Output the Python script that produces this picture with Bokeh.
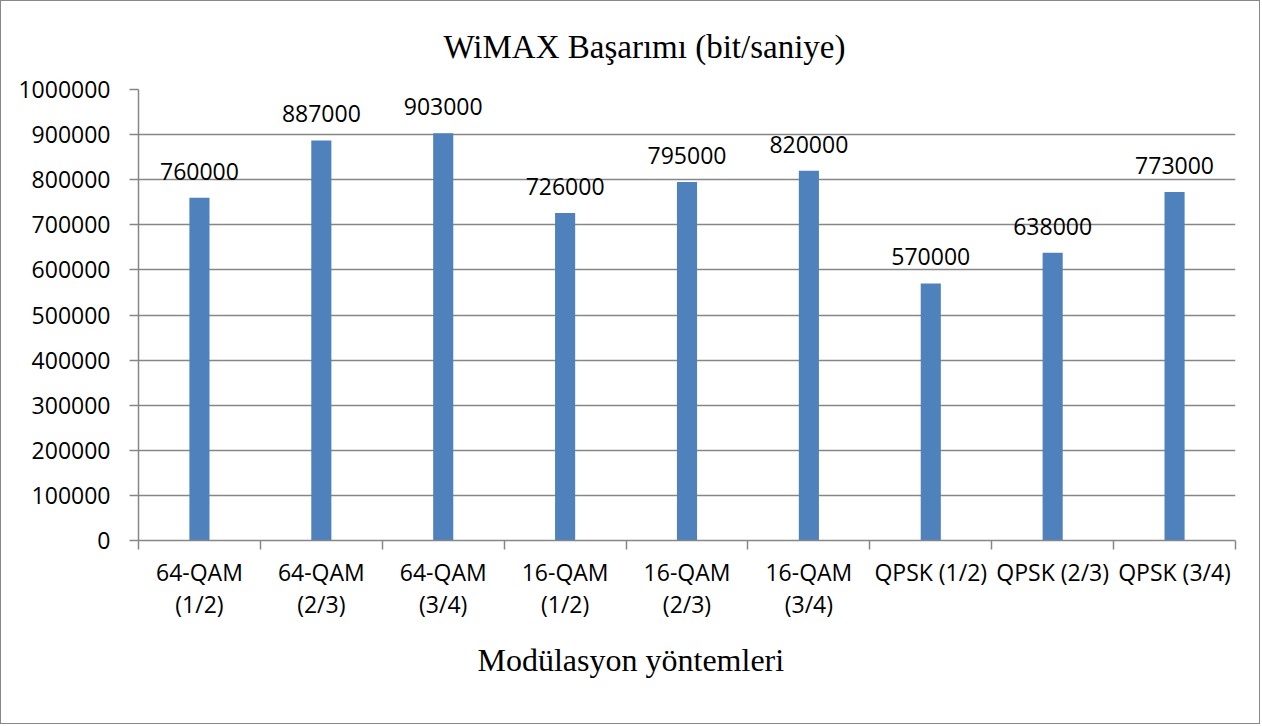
from bokeh.plotting import figure
from bokeh.models import ColumnDataSource, LabelSet, FixedTicker, Range1d, BasicTickFormatter, Title
from bokeh.core.properties import value
from bokeh.embed import file_html
from bokeh.resources import INLINE

categories = ["64-QAM (1/2)", "64-QAM (2/3)", "64-QAM (3/4)",
              "16-QAM (1/2)", "16-QAM (2/3)", "16-QAM (3/4)",
              "QPSK (1/2)", "QPSK (2/3)", "QPSK (3/4)"]
tick_labels = ["64-QAM\n(1/2)", "64-QAM\n(2/3)", "64-QAM\n(3/4)",
               "16-QAM\n(1/2)", "16-QAM\n(2/3)", "16-QAM\n(3/4)",
               "QPSK (1/2)", "QPSK (2/3)", "QPSK (3/4)"]
throughput = [760000, 887000, 903000, 726000, 795000, 820000, 570000, 638000, 773000]
y_ticks = [0, 100000, 200000, 300000, 400000, 500000, 600000, 700000, 800000, 900000, 1000000]

title_text = "WiMAX Başarımı (bit/saniye)"
x_title = "Modülasyon yöntemleri"

n = len(categories)
xs = [i + 0.5 for i in range(n)]
src = ColumnDataSource(dict(x=xs, y=throughput, label=[str(v) for v in throughput], cat=categories))

GRAY = "#868686"
SANS = "Open Sans"
SERIF = "Liberation Serif"

p = figure(width=1260, height=724, output_backend="svg", toolbar_location=None,
           x_range=Range1d(0, n), y_range=Range1d(0, 1000000),
           min_border_left=137, min_border_right=26, min_border_top=88, min_border_bottom=185,
           title=title_text)
p.styles = {"border": "1px solid #888888"}
p.outline_line_color = None
p.background_fill_color = "white"
p.border_fill_color = "white"

p.title.align = "left"
p.title.text_font = SERIF
p.title.text_font_size = "33px"
p.title.text_font_style = "normal"
p.title.text_color = "black"
p.title.standoff = 50
p.title.offset = 305

p.vbar(x="x", top="y", width=0.165, source=src, fill_color="#4F81BD", line_color=None)

labels = LabelSet(x="x", y="y", text="label", source=src, text_align="center",
                  text_baseline="alphabetic", y_offset=18, text_font=value(SANS),
                  text_font_size=value("23px"), text_color="black")
p.add_layout(labels)

# x axis
xa = p.xaxis[0]
xa.ticker = FixedTicker(ticks=xs, minor_ticks=list(range(n + 1)))
xa.major_label_overrides = {x: t for x, t in zip(xs, tick_labels)}
xa.major_tick_line_color = None
xa.minor_tick_line_color = GRAY
xa.minor_tick_line_width = 1.5
xa.minor_tick_out = 9
xa.minor_tick_in = 0
xa.axis_line_color = GRAY
xa.axis_line_width = 1.5
xa.major_label_text_font = SANS
xa.major_label_text_font_size = "23px"
xa.major_label_text_line_height = 1.0
xa.major_label_text_color = "black"
xa.major_label_standoff = 6

xt = Title(text=x_title, align="left", offset=339, standoff=34,
           text_font=SERIF, text_font_size="32px", text_font_style="normal",
           text_color="black")
p.add_layout(xt, "below")

# y axis
ya = p.yaxis[0]
ya.ticker = FixedTicker(ticks=y_ticks)
ya.formatter = BasicTickFormatter(use_scientific=False)
ya.axis_line_color = GRAY
ya.axis_line_width = 1.5
ya.major_tick_line_color = GRAY
ya.major_tick_line_width = 1.5
ya.major_tick_out = 9
ya.major_tick_in = 0
ya.minor_tick_line_color = None
ya.major_label_standoff = 19
ya.major_label_text_font = SANS
ya.major_label_text_font_size = "23px"
ya.major_label_text_color = "black"

p.xgrid.grid_line_color = None
p.ygrid.grid_line_color = GRAY
p.ygrid.grid_line_width = 1.5

open("out.html", "w").write(file_html(p, INLINE))
